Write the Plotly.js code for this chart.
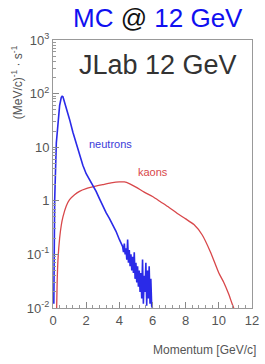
<!DOCTYPE html>
<html>
<head>
<meta charset="utf-8">
<script src="https://cdn.plot.ly/plotly-3.0.1.min.js"></script>
<style>html,body{margin:0;padding:0;background:#fff;}#chart{width:265px;height:364px;}</style>
</head>
<body>
<div id="chart"></div>
<script>
// Neutron spectrum (momentum in GeV/c, rate per (MeV/c) per s)
var neutronP = [0.05,0.1,0.2,0.3,0.4,0.5,0.55,0.6,0.7,0.8,0.9,1.0,1.2,1.4,1.6,1.8,2.0,2.2,2.4,2.6,2.8,3.0,3.2,3.4,3.6,3.8,4.0,
  4.2,4.25,4.3,4.35,4.4,4.45,4.5,4.55,4.6,4.65,4.7,4.75,4.8,4.85,4.9,4.95,5.0,5.05,5.1,5.15,5.2,5.25,5.3,5.35,5.4,5.45,5.5,5.55,5.6,5.65,5.7,5.75,5.8,5.85,5.9,5.95,6.0];
var neutronRate = [0.012,1,12,30,60,85,89,87,70,55,42,33,19,11.5,7.2,4.6,3.2,2.5,1.9,1.5,1.1,0.8,0.6,0.47,0.36,0.27,0.19,
  0.14,0.11,0.16,0.10,0.13,0.08,0.19,0.07,0.12,0.06,0.10,0.05,0.09,0.045,0.11,0.035,0.07,0.03,0.06,0.025,0.05,0.02,0.045,0.015,0.08,0.012,0.04,0.02,0.07,0.011,0.05,0.015,0.06,0.012,0.035,0.011,0.01];
// Kaon spectrum
var kaonP = [0.22,0.25,0.3,0.4,0.5,0.6,0.8,1.0,1.3,1.6,2.0,2.5,3.0,3.5,4.0,4.3,4.6,5.0,5.5,6.0,6.5,7.0,7.5,8.0,8.5,9.0,9.5,10.0,10.3,10.6,10.8,10.9];
var kaonRate = [0.01,0.03,0.08,0.2,0.35,0.5,0.8,1.05,1.3,1.5,1.68,1.85,2.0,2.15,2.25,2.25,2.1,1.8,1.45,1.2,0.95,0.75,0.58,0.46,0.36,0.23,0.11,0.045,0.03,0.018,0.012,0.01];

var yTickVals = [0.01,0.1,1,10,100,1000];
var yTickText = ['10<sup>-2</sup>','10<sup>-1</sup>','1','10','10<sup>2</sup>','10<sup>3</sup>'];
var xTickVals = [0,2,4,6,8,10,12];
var xTickText = ['0','2','4','6','8','10','12'];

var yMinor = [];
for (var e = -2; e < 3; e++) { for (var m = 2; m <= 9; m++) { yMinor.push(m * Math.pow(10, e)); } }

var traces = [
  {x: kaonP, y: kaonRate, type: 'scatter', mode: 'lines', line: {color: '#d8474a', width: 1.3, shape: 'spline', smoothing: 0.6}, hoverinfo: 'skip'},
  {x: neutronP, y: neutronRate, type: 'scatter', mode: 'lines', line: {color: '#2a2ae8', width: 1.6}, hoverinfo: 'skip'}
];

var layout = {
  width: 265, height: 364,
  margin: {l: 53, r: 13, t: 40, b: 56},
  paper_bgcolor: '#fff', plot_bgcolor: '#fff',
  showlegend: false,
  font: {family: 'Liberation Sans, Arial, sans-serif', color: '#555'},
  xaxis: {
    range: [0, 12], tickmode: 'array', tickvals: xTickVals, ticktext: xTickText,
    ticks: 'inside', ticklen: 6, tickcolor: '#888', showgrid: false, zeroline: false,
    showline: true, linecolor: '#999', linewidth: 1, mirror: true,
    tickfont: {size: 13, color: '#555'},
    minor: {dtick: 0.4, tick0: 0, ticks: 'inside', ticklen: 3, tickcolor: '#999'}
  },
  yaxis: {
    type: 'log', range: [-2, 3], tickmode: 'array', tickvals: yTickVals, ticktext: yTickText,
    ticks: 'inside', ticklen: 6, tickcolor: '#888', showgrid: false, zeroline: false,
    showline: true, linecolor: '#999', linewidth: 1, mirror: true,
    tickfont: {size: 13, color: '#555'},
    minor: {tickmode: 'array', tickvals: yMinor, ticks: 'inside', ticklen: 3, tickcolor: '#999'}
  },
  annotations: [
    {xref: 'paper', yref: 'paper', x: 0.53, y: 1.082, xanchor: 'center', yanchor: 'middle', showarrow: false,
     text: '<span style="color:#1010f0">MC</span> @ <span style="color:#1010f0">12 GeV</span>',
     font: {family: 'Liberation Sans, Arial, sans-serif', size: 26, color: '#111'}},
    {xref: 'paper', yref: 'paper', x: 0.53, y: 0.905, xanchor: 'center', yanchor: 'middle', showarrow: false,
     text: 'JLab 12 GeV', font: {family: 'Liberation Sans, Arial, sans-serif', size: 27, color: '#333'}},
    {xref: 'paper', yref: 'paper', x: 0.29, y: 0.612, xanchor: 'center', yanchor: 'middle', showarrow: false,
     text: 'neutrons', font: {size: 11, color: '#3a3ad8'}},
    {xref: 'paper', yref: 'paper', x: 0.50, y: 0.507, xanchor: 'center', yanchor: 'middle', showarrow: false,
     text: 'kaons', font: {size: 11, color: '#d8474a'}},
    {xref: 'paper', yref: 'paper', x: -0.18, y: 0.843, xanchor: 'center', yanchor: 'middle', showarrow: false, textangle: -90,
     text: '(MeV/c)<sup>-1</sup> · s<sup>-1</sup>', font: {size: 12, color: '#555'}},
    {xref: 'paper', yref: 'paper', x: 1.03, y: -0.157, xanchor: 'right', yanchor: 'middle', showarrow: false,
     text: 'Momentum [GeV/c]', font: {size: 12, color: '#555'}}
  ]
};

Plotly.newPlot('chart', traces, layout, {staticPlot: true, displayModeBar: false});
</script>
</body>
</html>
